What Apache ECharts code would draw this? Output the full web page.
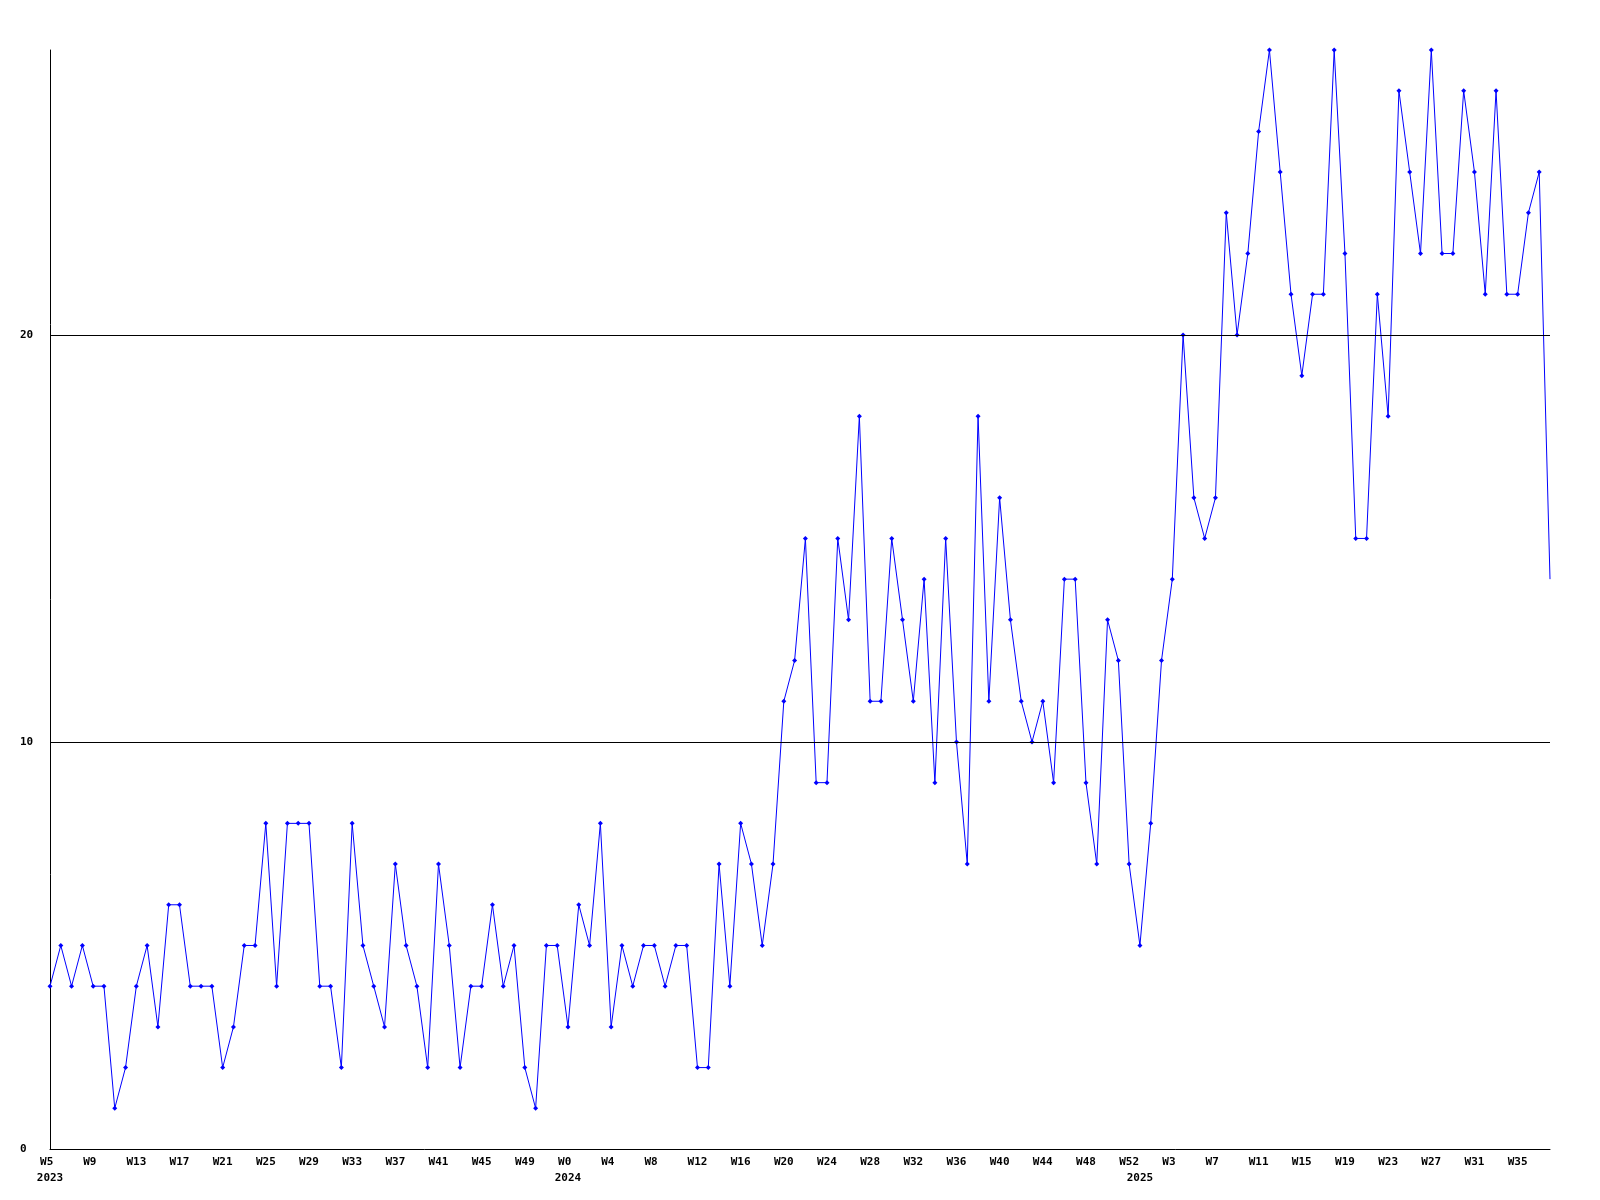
<!DOCTYPE html>
<html>
<head>
<meta charset="utf-8">
<script src="https://cdn.jsdelivr.net/npm/echarts@6/dist/echarts.min.js"></script>
<style>
  html, body { margin: 0; padding: 0; background: #fff; }
  #chart { width: 1600px; height: 1200px; }
</style>
</head>
<body>
<div id="chart"></div>
<script>
  // weekly values, W5..W52 2023, W0..W52 2024, W0..W38 2025
  var vals2023 = [4, 5, 4, 5, 4, 4, 1, 2, 4, 5, 3, 6, 6, 4, 4, 4, 2, 3, 5, 5, 8, 4, 8, 8, 8, 4, 4, 2, 8, 5, 4, 3, 7, 5, 4, 2, 7, 5, 2, 4, 4, 6, 4, 5, 2, 1, 5, 5]
  var vals2024 = [3, 6, 5, 8, 3, 5, 4, 5, 5, 4, 5, 5, 2, 2, 7, 4, 8, 7, 5, 7,
    11, 12, 15, 9, 9, 15, 13, 18, 11, 11, 15, 13, 11, 14, 9, 15, 10, 7, 18, 11, 16, 13, 11, 10, 11, 9,
    14, 14, 9, 7, 13, 12, 7]
  var vals2025 = [5, 8, 12, 14, 20, 16, 15, 16, 23, 20, 22, 25, 27, 24, 21, 19, 21, 21, 27, 22,
    15, 15, 21, 18, 26, 24, 22, 27, 22, 22, 26, 24, 21, 26, 21, 21, 23, 24, 14]
  var years = ['2023', '2024', '2025']
  var firstWeek = [5, 0, 0]
  var yTicks = [10, 20]

  var weekLabels = []
  var yearLabels = []
  var values = []
  ;[vals2023, vals2024, vals2025].forEach(function (arr, y) {
    arr.forEach(function (v, i) {
      weekLabels.push('W' + (firstWeek[y] + i))
      yearLabels.push(i === 0 ? years[y] : '')
      values.push(v)
    })
  })
  var lastIdx = values.length - 1
  var seriesData = values.map(function (v, i) {
    return i === lastIdx ? { value: v, symbol: 'none' } : v
  })

  var font = { fontFamily: 'DejaVu Sans Mono', fontWeight: 'bold', fontSize: 11, color: '#000' }

  var chart = echarts.init(document.getElementById('chart'))
  var option = {
    animation: false,
    backgroundColor: '#fff',
    grid: { left: 50, right: 50, top: 50, bottom: 51, containLabel: false },
    xAxis: [
      {
        type: 'category',
        data: weekLabels,
        boundaryGap: false,
        axisLine: { lineStyle: { color: '#000', width: 1 } },
        axisTick: { show: false },
        axisLabel: Object.assign({
          interval: 3,
          margin: 8,
          // labels sit like left-aligned 3-char text
          formatter: function (v) { return v.length < 3 ? v + ' ' : v }
        }, font),
        splitLine: { show: false }
      },
      {
        type: 'category',
        data: yearLabels,
        boundaryGap: false,
        position: 'bottom',
        offset: 16,
        axisLine: { show: false },
        axisTick: { show: false },
        axisLabel: Object.assign({
          interval: function (index, value) { return value !== '' },
          margin: 8
        }, font),
        splitLine: { show: false }
      }
    ],
    yAxis: {
      type: 'value',
      min: 0,
      max: 27,
      interval: 10,
      axisLine: { show: true, lineStyle: { color: '#000', width: 1 } },
      axisTick: { show: false },
      axisLabel: Object.assign({ align: 'left', margin: 30, showMaxLabel: false }, font),
      splitLine: { show: false }
    },
    series: [
      {
        type: 'line',
        data: seriesData,
        xAxisIndex: 0,
        symbol: 'diamond',
        symbolSize: 5,
        lineStyle: { color: '#0000ff', width: 1 },
        itemStyle: { color: '#0000ff' },
        markLine: {
          silent: true,
          symbol: 'none',
          label: { show: false },
          lineStyle: { color: '#000', width: 1, type: 'solid' },
          data: yTicks.map(function (t) { return { yAxis: t } })
        },
        z: 3
      }
    ]
  }
  chart.setOption(option)
</script>
</body>
</html>
